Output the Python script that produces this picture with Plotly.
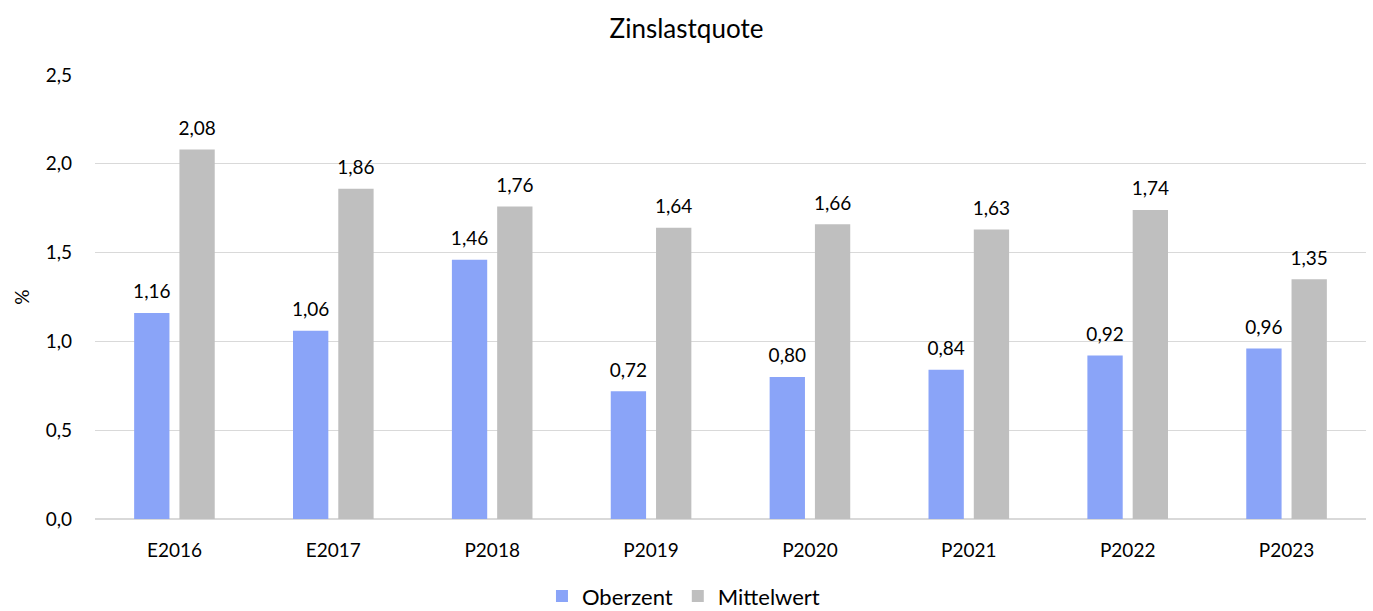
import plotly.graph_objects as go

categories = ["E2016", "E2017", "P2018", "P2019", "P2020", "P2021", "P2022", "P2023"]
oberzent = [1.16, 1.06, 1.46, 0.72, 0.80, 0.84, 0.92, 0.96]
mittelwert = [2.08, 1.86, 1.76, 1.64, 1.66, 1.63, 1.74, 1.35]
y_ticks = [0.0, 0.5, 1.0, 1.5, 2.0, 2.5]

FONT = "Lato, 'Open Sans', sans-serif"
BARGAP = 0.43

fig = go.Figure()
series = [("Oberzent", oberzent, "#8AA4F8", "a"), ("Mittelwert", mittelwert, "#BFBFBF", "b")]
for name, vals, color, grp in series:
    fig.add_trace(go.Bar(
        name=name, x=categories, y=vals, offsetgroup=grp,
        marker=dict(color=color, line=dict(width=0)),
        hoverinfo="x+y",
    ))
for name, vals, color, grp in series:
    fig.add_trace(go.Scatter(
        x=categories, y=vals, offsetgroup=grp, mode="markers+text",
        marker=dict(size=14, opacity=0, color=color),
        texttemplate="%{y:.2f}", textposition="top center",
        textfont=dict(size=19, color="#000000", family=FONT),
        showlegend=False, cliponaxis=False, hoverinfo="skip",
    ))

fig.update_layout(
    width=1373, height=611,
    separators=",.",
    paper_bgcolor="white", plot_bgcolor="white",
    font=dict(family=FONT, size=19, color="#000000"),
    title=dict(text="Zinslastquote", x=0.5, xanchor="center", y=0.953, yanchor="middle",
               font=dict(size=26, color="#000000", family=FONT)),
    margin=dict(l=95, r=7, t=75, b=92, autoexpand=False),
    barmode="group", bargap=BARGAP, bargroupgap=0.22,
    scattermode="group", scattergap=BARGAP,
    legend=dict(orientation="h", x=0.463, xanchor="center", y=-0.174, yanchor="middle",
                font=dict(size=22, color="#000000", family=FONT), traceorder="normal",
                itemwidth=30, borderwidth=0),
    showlegend=True,
)
fig.update_xaxes(showgrid=False, showline=False, ticks="", ticklabelstandoff=18, automargin=False,
                 tickfont=dict(size=19, color="#000000"))
fig.update_yaxes(range=[0, 2.5], tickvals=y_ticks, tickformat=".1f", automargin=False,
                 showgrid=True, gridcolor="#D9D9D9", gridwidth=1.3,
                 zeroline=True, zerolinecolor="#D9D9D9", zerolinewidth=1.5,
                 showline=False, ticks="", ticklabelstandoff=22,
                 title=dict(text="%", standoff=10, font=dict(size=19, color="#000000")),
                 tickfont=dict(size=19, color="#000000"))

fig.write_html("out.html", config={"displayModeBar": False},
               post_script="document.body.style.margin='0px';document.body.style.overflow='hidden';")
